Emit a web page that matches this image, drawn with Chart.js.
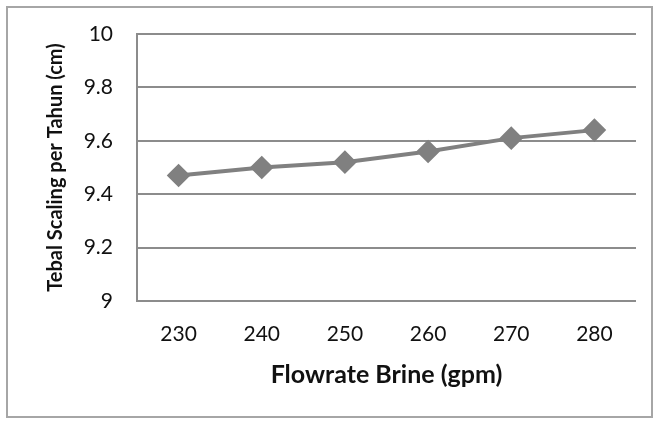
<!DOCTYPE html>
<html>
<head>
<meta charset="utf-8">
<script src="https://cdn.jsdelivr.net/npm/chart.js@4/dist/chart.umd.min.js"></script>
<style>
  html, body { margin: 0; padding: 0; background: #fff; }
  #wrap { position: relative; width: 660px; height: 425px; }
  #frame { position: absolute; left: 6px; top: 6px; width: 647px; height: 412px; border: 2px solid #a6a6a6; box-sizing: border-box; pointer-events: none; }
</style>
</head>
<body>
<div id="wrap">
  <canvas id="chart" width="660" height="425"></canvas>
  <div id="frame"></div>
</div>
<script>
// data
const flowrates = ['230', '240', '250', '260', '270', '280'];
const scaling = [9.47, 9.50, 9.52, 9.56, 9.61, 9.64];

const yMin = 9;
const yMax = 10;
const yStep = 0.2;

const FONT = 'Lato, "Open Sans", sans-serif';
const GRID = '#8c8c8c';
const LINE = '#808080';

new Chart(document.getElementById('chart'), {
  type: 'line',
  data: {
    labels: flowrates,
    datasets: [{
      data: scaling,
      borderColor: LINE,
      backgroundColor: LINE,
      borderWidth: 4,
      pointStyle: 'rectRot',
      pointRadius: 9,
      pointBackgroundColor: LINE,
      pointBorderColor: LINE,
      tension: 0,
      fill: false
    }]
  },
  options: {
    responsive: false,
    animation: false,
    layout: { padding: { left: 40, right: 24, top: 34, bottom: 31 } },
    plugins: { legend: { display: false }, tooltip: { enabled: false } },
    scales: {
      x: {
        offset: true,
        grid: { display: false, drawTicks: false },
        border: { display: false },
        ticks: { color: '#111', font: { family: FONT, size: 21 }, padding: 21 },
        title: {
          display: true,
          text: 'Flowrate Brine (gpm)',
          color: '#111',
          font: { family: FONT, size: 25, weight: 'bold' }
        },
        afterFit: function(scale) {
          scale.height = 93;
          scale.paddingLeft = 0;
          scale.paddingRight = 0;
        }
      },
      y: {
        min: yMin,
        max: yMax,
        grid: { color: GRID, lineWidth: 2, drawTicks: false },
        border: { display: true, color: GRID, width: 2 },
        ticks: {
          stepSize: yStep,
          color: '#111',
          font: { family: FONT, size: 21 },
          padding: 24,
          callback: function(v) { return String(Number(v.toFixed(1))); }
        },
        title: {
          display: true,
          text: 'Tebal Scaling per Tahun (cm)',
          color: '#111',
          font: { family: FONT, size: 20, weight: 'bold' }
        },
        afterFit: function(scale) {
          scale.width = 97;
          scale.paddingTop = 0;
          scale.paddingBottom = 0;
        }
      }
    }
  }
});
</script>
</body>
</html>
